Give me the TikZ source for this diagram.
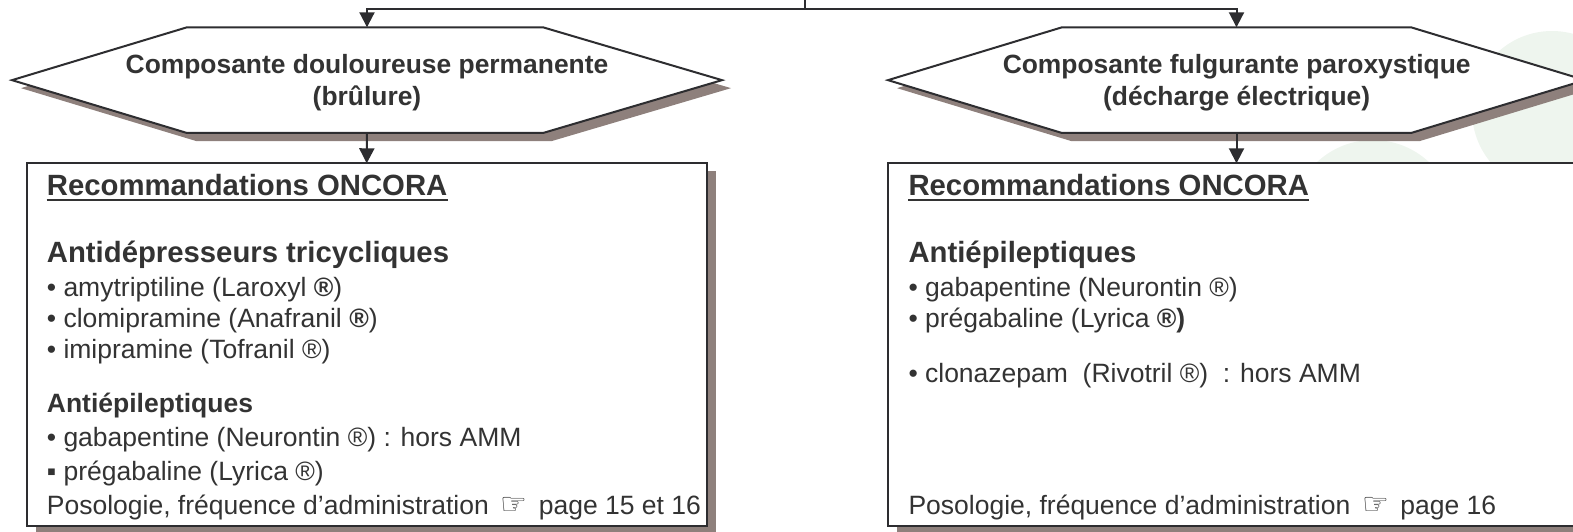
\documentclass[tikz,border=0pt]{standalone}
\usepackage{fontspec}
\setmainfont{Liberation Sans}
\newfontfamily\djv{DejaVu Sans}
\usetikzlibrary{arrows.meta,shadows}
\definecolor{tc}{RGB}{51,51,51}
\definecolor{lc}{RGB}{45,45,48}
\definecolor{shadowc}{RGB}{142,128,124}
\definecolor{leaf}{RGB}{238,245,238}
\begin{document}
\begin{tikzpicture}[x=1pt,y=-1pt,
 shad/.style={general shadow={shadow xshift=9pt, shadow yshift=-8pt, fill=shadowc}},
 outline/.style={draw=lc, line width=2pt, fill=white, line join=miter},
 frame/.style={inner sep=0pt, outer sep=0pt},
 conn/.style={draw=lc, line width=2pt},
 arr/.style={conn, -{Triangle[length=15pt,width=15pt]}},
 hextxt/.style={anchor=base, inner sep=0pt, text=tc, font=\fontsize{26.4}{31}\selectfont\bfseries},
 body/.style={anchor=base west, inner sep=0pt, text=tc, font=\fontsize{26.5}{30}\selectfont},
 head/.style={body, font=\fontsize{29.3}{33}\selectfont\bfseries},
 subhead/.style={body, font=\fontsize{26.5}{30}\selectfont\bfseries},
 uline/.style={draw=tc, line width=2.6pt},
 hand/.style={}
]
\useasboundingbox (0,0) rectangle (1573,532);
\clip (0,0) rectangle (1573,532);
% faint background shapes
\fill[leaf] (1552,111) circle[radius=80];
\fill[leaf] (1373,222) circle[radius=82];
% hexagon frames
\node[frame, minimum width=710pt, minimum height=105.7pt] (hexLf) at (367,80.15) {};
\node[frame, minimum width=697pt, minimum height=105.7pt] (hexRf) at (1236.5,80.15) {};
\path[outline, shad] (hexLf.west) -- ([xshift=175pt]hexLf.north west) -- ([xshift=-179pt]hexLf.north east) -- (hexLf.east) -- ([xshift=-179pt]hexLf.south east) -- ([xshift=175pt]hexLf.south west) -- cycle;
\path[outline, shad] (hexRf.west) -- ([xshift=174pt]hexRf.north west) -- ([xshift=-174pt]hexRf.north east) -- (hexRf.east) -- ([xshift=-174pt]hexRf.south east) -- ([xshift=174pt]hexRf.south west) -- cycle;
% boxes
\node[frame, outline, shad, minimum width=680pt, minimum height=362.7pt] (boxL) at (366.7,344.65) {};
\node[frame, outline, shad, minimum width=722pt, minimum height=362.7pt] (boxR) at (1248.7,344.65) {};
% hexagon texts
\node[hextxt] (hL1) at (367,74) {Composante douloureuse permanente};
\node[hextxt] (hL2) at (367,106) {(brûlure)};
\node[hextxt] (hR1) at (1236.7,74) {Composante fulgurante paroxystique};
\node[hextxt] (hR2) at (1236.7,106) {(décharge électrique)};
% left box
\node[head] (recL) at (46.7,195) {Recommandations ONCORA};
\draw[uline] ([yshift=-5pt]recL.base west) -- ([yshift=-5pt]recL.base east);
\node[head] (adL) at (46.7,262) {Antidépresseurs tricycliques};
\node[body] (l1) at (46.7,296) {• amytriptiline (Laroxyl \textbf{®})};
\node[body] (l2) at (46.7,327) {• clomipramine (Anafranil \textbf{®})};
\node[body] (l3) at (46.7,358) {• imipramine (Tofranil ®)};
\node[subhead] (aeL) at (46.7,412) {Antiépileptiques};
\node[body] (l4) at (46.7,446) {• gabapentine (Neurontin ®) : hors AMM};
\node[body] (l5) at (46.7,480) {▪ prégabaline (Lyrica ®)};
\node[body] (posL) at (46.7,514) {Posologie, fréquence d’administration\makebox[50pt]{\djv\fontsize{30}{30}\selectfont ☞}page 15 et 16};
% right box
\node[head] (recR) at (908.3,195) {Recommandations ONCORA};
\draw[uline] ([yshift=-5pt]recR.base west) -- ([yshift=-5pt]recR.base east);
\node[head] (aeR) at (908.3,262) {Antiépileptiques};
\node[body] (r1) at (908.3,296) {• gabapentine (Neurontin ®)};
\node[body] (r2) at (908.3,327) {• prégabaline (Lyrica \textbf{®)}};
\node[body] (r3) at (908.3,382) {• clonazepam~ (Rivotril ®)~ : hors AMM};
\node[body] (posR) at (908.3,514) {Posologie, fréquence d’administration\makebox[50pt]{\djv\fontsize{30}{30}\selectfont ☞}page 16};
% connectors
\coordinate (src) at (805,0);
\coordinate (bus) at (805,9);
\draw[conn] (src) -- (bus);
\draw[arr] (bus) -| (hexLf.north);
\draw[arr] (bus) -| (hexRf.north);
\draw[arr] (hexLf.south) -- (boxL.north);
\draw[arr] (hexRf.south) -- (hexRf.south |- boxR.north);
\end{tikzpicture}
\end{document}
